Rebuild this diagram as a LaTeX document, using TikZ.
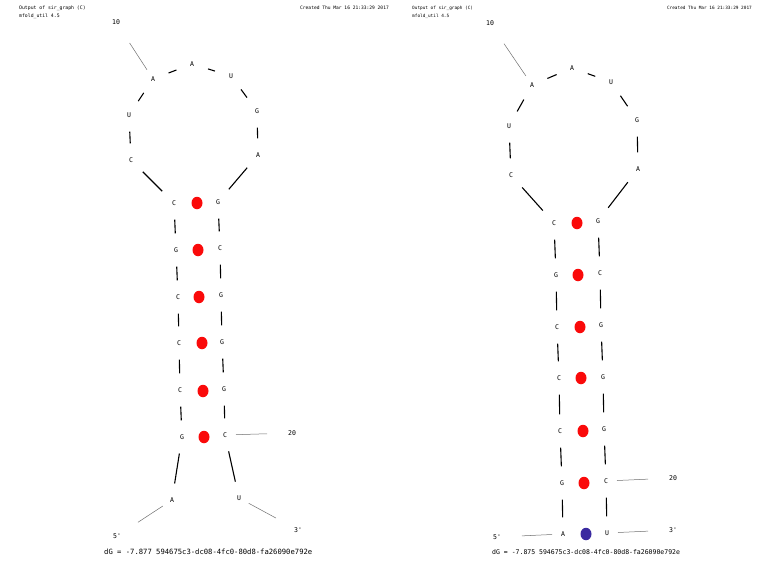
\documentclass[tikz,border=0pt]{standalone}
\usepackage{fontspec}
\setmonofont{DejaVu Sans Mono}
\definecolor{sgRed}{RGB}{250, 10, 10}
\definecolor{sgBlue}{RGB}{58, 42, 160}
\definecolor{sgGray}{RGB}{110, 110, 110}
\usepackage{tikz}
\usetikzlibrary{shapes.geometric}
\tikzset{
  base/.style={circle, inner sep=0pt, minimum size=33pt, font=\ttfamily\fontsize{6.5}{7}\selectfont},
  pairdot/.style={ellipse, inner sep=0pt, minimum width=11pt, minimum height=12.5pt, fill=#1},
  pairdot/.default=sgRed,
  bb/.style={line width=1.1pt, black},
  tick/.style={line width=0.5pt, sgGray, shorten <=11pt, shorten >=25pt},
  lbl/.style={inner sep=0pt, font=\ttfamily\fontsize{6.5}{7}\selectfont},
  hdr/.style={inner sep=0pt, font=\ttfamily\fontsize{#1}{#1}\selectfont},
  hdr/.default=4.8,
}

\begin{document}
\begin{tikzpicture}[x=1pt, y=-1pt]
  \useasboundingbox (0,0) rectangle (759,562);

  % Left panel: headers
  \node[hdr, anchor=west] (lh1) at (19, 8) {Output of sir\_graph (C)};
  \node[hdr, anchor=west] (lh2) at (19, 16) {mfold\_util 4.5};
  \node[hdr=4.6, anchor=east] (lh3) at (389, 8) {Created Thu Mar 16 21:33:29 2017};

  % Left panel: bases, 5' to 3'
  \node[base] (l1) at (172, 500) {A};
  \node[base] (l2) at (182, 437) {G};
  \node[base] (l3) at (180, 390) {C};
  \node[base] (l4) at (179, 343) {C};
  \node[base] (l5) at (178, 297) {C};
  \node[base] (l6) at (176, 250) {G};
  \node[base] (l7) at (174, 203) {C};
  \node[base] (l8) at (131, 160) {C};
  \node[base] (l9) at (129, 115) {U};
  \node[base] (l10) at (153, 79) {A};
  \node[base] (l11) at (192, 64) {A};
  \node[base] (l12) at (231, 76) {U};
  \node[base] (l13) at (257, 111) {G};
  \node[base] (l14) at (258, 155) {A};
  \node[base] (l15) at (218, 202) {G};
  \node[base] (l16) at (220, 248) {C};
  \node[base] (l17) at (221, 295) {G};
  \node[base] (l18) at (222, 342) {G};
  \node[base] (l19) at (224, 389) {G};
  \node[base] (l20) at (225, 435) {C};
  \node[base] (l21) at (239, 498) {U};

  % Left panel: pairs
  \node[pairdot] (lp1) at (197, 203) {};
  \node[pairdot] (lp2) at (198, 250) {};
  \node[pairdot] (lp3) at (199, 297) {};
  \node[pairdot] (lp4) at (202, 343) {};
  \node[pairdot] (lp5) at (203, 391) {};
  \node[pairdot] (lp6) at (204, 437) {};

  % Left panel: labels
  \node[lbl] (ln10) at (116, 22) {10};
  \node[lbl] (ln20) at (292, 433) {20};
  \node[lbl] (l5p) at (117, 536) {5'};
  \node[lbl] (l3p) at (298, 530) {3'};
  \node[hdr=7.2, anchor=west] (ldg) at (104, 552) {dG = -7.877 594675c3-dc08-4fc0-80d8-fa26090e792e};

  % Left panel: backbone
  \draw[bb] (l1) -- (l2) -- (l3) -- (l4) -- (l5) -- (l6) -- (l7);
  \draw[bb] (l7) -- (l8) -- (l9) -- (l10) -- (l11) -- (l12) -- (l13) -- (l14) -- (l15);
  \draw[bb] (l15) -- (l16) -- (l17) -- (l18) -- (l19) -- (l20) -- (l21);
  \draw[tick] (l10.center) -- (ln10.center);
  \draw[tick] (l20.center) -- (ln20.center);
  \draw[tick] (l1.center) -- (l5p.center);
  \draw[tick] (l21.center) -- (l3p.center);

  % Right panel: headers
  \node[hdr=4.4, anchor=west] (rh1) at (412, 8) {Output of sir\_graph (C)};
  \node[hdr=4.4, anchor=west] (rh2) at (412, 16) {mfold\_util 4.5};
  \node[hdr=4.4, anchor=east] (rh3) at (752, 8) {Created Thu Mar 16 21:33:29 2017};

  % Right panel: bases, 5' to 3'
  \node[base] (r1) at (563, 534) {A};
  \node[base] (r2) at (562, 483) {G};
  \node[base] (r3) at (560, 431) {C};
  \node[base] (r4) at (559, 378) {C};
  \node[base] (r5) at (557, 327) {C};
  \node[base] (r6) at (556, 275) {G};
  \node[base] (r7) at (554, 223) {C};
  \node[base] (r8) at (511, 175) {C};
  \node[base] (r9) at (509, 126) {U};
  \node[base] (r10) at (532, 85) {A};
  \node[base] (r11) at (572, 68) {A};
  \node[base] (r12) at (611, 82) {U};
  \node[base] (r13) at (637, 120) {G};
  \node[base] (r14) at (638, 169) {A};
  \node[base] (r15) at (598, 221) {G};
  \node[base] (r16) at (600, 273) {C};
  \node[base] (r17) at (601, 325) {G};
  \node[base] (r18) at (603, 377) {G};
  \node[base] (r19) at (604, 429) {G};
  \node[base] (r20) at (606, 481) {C};
  \node[base] (r21) at (607, 533) {U};

  % Right panel: pairs
  \node[pairdot] (rp1) at (577, 223) {};
  \node[pairdot] (rp2) at (578, 275) {};
  \node[pairdot] (rp3) at (580, 327) {};
  \node[pairdot] (rp4) at (581, 378) {};
  \node[pairdot] (rp5) at (583, 431) {};
  \node[pairdot] (rp6) at (584, 483) {};
  \node[pairdot=sgBlue] (rp7) at (586, 534) {};

  % Right panel: labels
  \node[lbl] (rn10) at (490, 23) {10};
  \node[lbl] (rn20) at (673, 478) {20};
  \node[lbl] (r5p) at (497, 537) {5'};
  \node[lbl] (r3p) at (673, 530) {3'};
  \node[hdr=6.5, anchor=west] (rdg) at (492, 552) {dG = -7.875 594675c3-dc08-4fc0-80d8-fa26090e792e};

  % Right panel: backbone
  \draw[bb] (r1) -- (r2) -- (r3) -- (r4) -- (r5) -- (r6) -- (r7);
  \draw[bb] (r7) -- (r8) -- (r9) -- (r10) -- (r11) -- (r12) -- (r13) -- (r14) -- (r15);
  \draw[bb] (r15) -- (r16) -- (r17) -- (r18) -- (r19) -- (r20) -- (r21);
  \draw[tick] (r10.center) -- (rn10.center);
  \draw[tick] (r20.center) -- (rn20.center);
  \draw[tick] (r1.center) -- (r5p.center);
  \draw[tick] (r21.center) -- (r3p.center);
\end{tikzpicture}
\end{document}
